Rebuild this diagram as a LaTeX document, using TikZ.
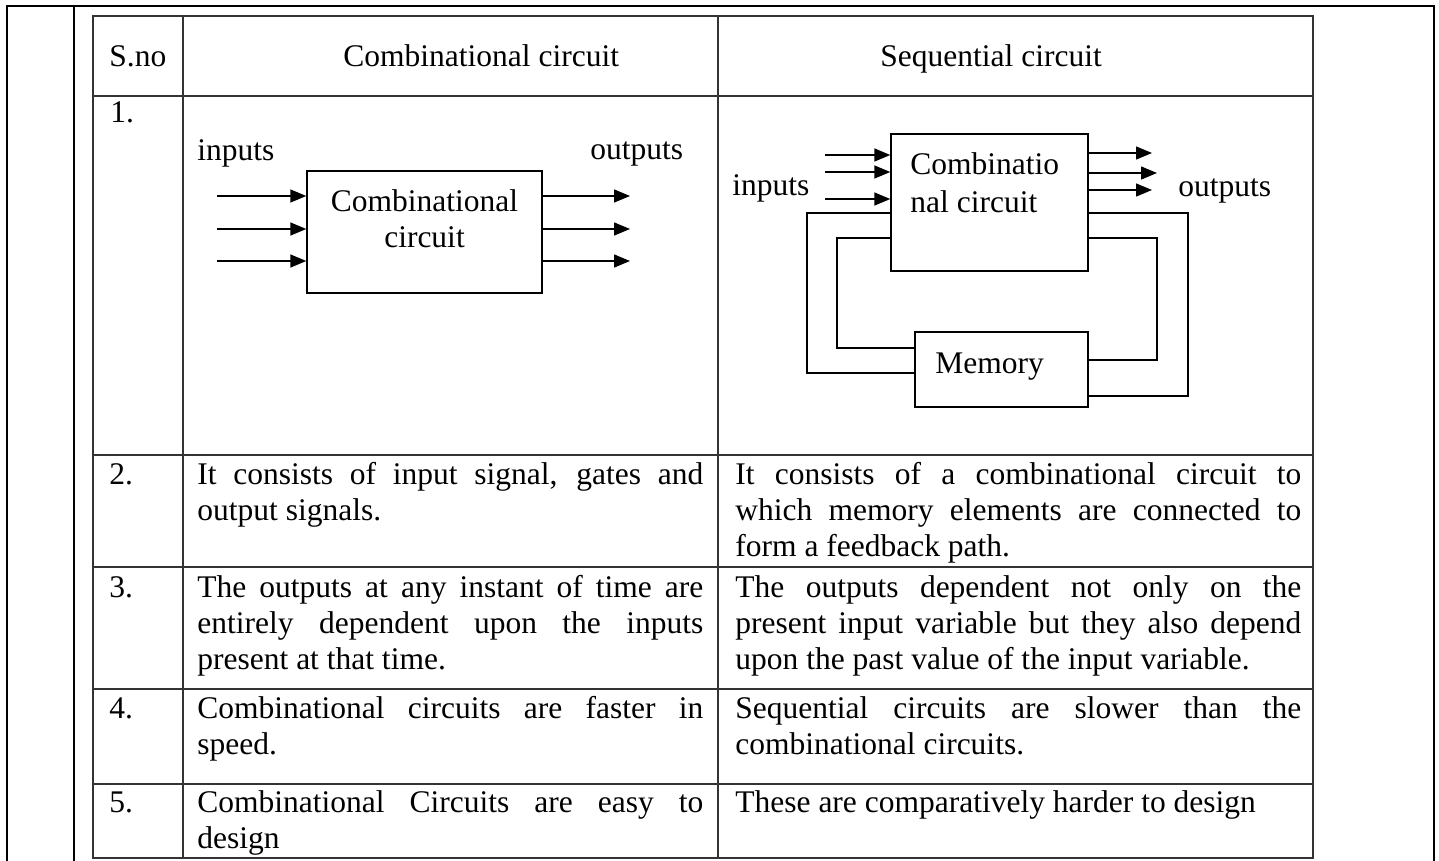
\documentclass[tikz,border=0pt]{standalone}
\usepackage{fontspec}
\setmainfont{Liberation Serif}
\usepackage{tikz}
\usetikzlibrary{arrows.meta}
\newcommand{\txtsize}{\fontsize{15.75}{18}\selectfont}
\tolerance=10000
\hbadness=10000
\tikzset{
  outerline/.style={line width=1pt},
  tabline/.style={line width=1pt, black!80},
  blk/.style={draw, line width=0.7pt, inner sep=0pt},
  sig/.style={line width=0.7pt, -{Triangle[length=8pt,width=6.5pt]}},
  wire/.style={line width=0.7pt},
  lbl/.style={anchor=base west, inner sep=0pt},
  cell/.style={anchor=base west, inner sep=0pt, align=justify},
}
\begin{document}
\begin{tikzpicture}[x=0.5pt, y=-0.5pt, font=\txtsize]
\useasboundingbox (0,0) rectangle (1439,861);

  \draw[outerline] (7,861) -- (7,6) -- (1434,6) -- (1434,861);
  \draw[outerline] (74,6) -- (74,861);

  \draw[tabline] (93,16) rectangle (1313,858);
  \draw[tabline] (183,16) -- (183,858);
  \draw[tabline] (718,16) -- (718,858);
  \draw[tabline] (93,96) -- (1313,96);
  \draw[tabline] (93,455) -- (1313,455);
  \draw[tabline] (93,567) -- (1313,567);
  \draw[tabline] (93,689) -- (1313,689);
  \draw[tabline] (93,784) -- (1313,784);

  \draw (109,67) node[lbl] (sno) {S.no};
  \draw (343,67) node[lbl] (hcomb) {Combinational circuit};
  \draw (880,67) node[lbl] (hseq) {Sequential circuit};

  \draw (110,123) node[lbl] (no1) {1.};
  \draw (109,484) node[lbl] (no2) {2.};
  \draw (109,597) node[lbl] (no3) {3.};
  \draw (109,718) node[lbl] (no4) {4.};
  \draw (109,812) node[lbl] (no5) {5.};

  % combinational block
  \draw (424.5,232) node[blk, minimum width=117.5pt, minimum height=61pt] (comb1) {};
  \draw (424.5,212) node[anchor=base] (comb1top) {Combinational};
  \draw (424.5,248) node[anchor=base] (comb1bot) {circuit};
  \draw (197,161) node[lbl] (inA) {inputs};
  \draw (590,160) node[lbl] (outA) {outputs};

  \coordinate (in1a) at (217,196);
  \coordinate (in1b) at (217,229);
  \coordinate (in1c) at (217,261);
  \coordinate (out1a) at (630,196);
  \coordinate (out1b) at (630,229);
  \coordinate (out1c) at (630,261);
  \draw[sig] (in1a) -- (comb1.west |- in1a);
  \draw[sig] (in1b) -- (comb1.west |- in1b);
  \draw[sig] (in1c) -- (comb1.west |- in1c);
  \draw[sig] (comb1.east |- out1a) -- (out1a);
  \draw[sig] (comb1.east |- out1b) -- (out1b);
  \draw[sig] (comb1.east |- out1c) -- (out1c);

  % sequential block
  \draw (989.5,202.5) node[blk, minimum width=98.5pt, minimum height=68.5pt] (comb2) {};
  \draw (910,175) node[lbl] (comb2top) {Combinatio};
  \draw (910,213) node[lbl] (comb2bot) {nal circuit};
  \draw (1001.5,369.5) node[blk, minimum width=86.5pt, minimum height=37.5pt] (mem) {};
  \draw (935,373) node[lbl] (memtxt) {Memory};
  \draw (732,196) node[lbl] (inB) {inputs};
  \draw (1178,197) node[lbl] (outB) {outputs};

  \coordinate (in2a) at (825,155);
  \coordinate (in2b) at (825,172);
  \coordinate (in2c) at (825,199);
  \coordinate (out2a) at (1152,153);
  \coordinate (out2b) at (1157,173);
  \coordinate (out2c) at (1152,190);
  \draw[sig] (in2a) -- (comb2.west |- in2a);
  \draw[sig] (in2b) -- (comb2.west |- in2b);
  \draw[sig] (in2c) -- (comb2.west |- in2c);
  \draw[sig] (comb2.east |- out2a) -- (out2a);
  \draw[sig] (comb2.east |- out2b) -- (out2b);
  \draw[sig] (comb2.east |- out2c) -- (out2c);

  \coordinate (hiwire) at (0,213);
  \coordinate (lowire) at (0,238);
  \coordinate (fbol) at (807,373);
  \coordinate (fbil) at (837,348);
  \coordinate (fbir) at (1157,360);
  \coordinate (fbor) at (1188,396);
  \draw[wire] (comb2.west |- hiwire) -| (fbol) -- (mem.west |- fbol);
  \draw[wire] (comb2.west |- lowire) -| (fbil) -- (mem.west |- fbil);
  \draw[wire] (comb2.east |- lowire) -| (fbir) -- (mem.east |- fbir);
  \draw[wire] (comb2.east |- hiwire) -| (fbor) -- (mem.east |- fbor);

  % rows 2 to 5
  \draw (197,484) node[cell, text width=253pt] (r2c) {It consists of input signal, gates and\linebreak output signals.};
  \draw (735,484) node[cell, text width=283pt] (r2s) {It consists of a combinational circuit to\linebreak which memory elements are connected to\linebreak form a feedback path.};
  \draw (197,597) node[cell, text width=253pt] (r3c) {The outputs at any instant of time are\linebreak entirely dependent upon the inputs\linebreak present at that time.};
  \draw (735,597) node[cell, text width=283pt] (r3s) {The outputs dependent not only on the\linebreak present input variable but they also depend\linebreak upon the past value of the input variable.};
  \draw (197,718) node[cell, text width=253pt] (r4c) {Combinational circuits are faster in\linebreak speed.};
  \draw (735,718) node[cell, text width=283pt] (r4s) {Sequential circuits are slower than the\linebreak combinational circuits.};
  \draw (197,812) node[cell, text width=253pt] (r5c) {Combinational Circuits are easy to\linebreak design};
  \draw (735,812) node[cell, text width=283pt] (r5s) {These are comparatively harder to design};
\end{tikzpicture}
\end{document}
